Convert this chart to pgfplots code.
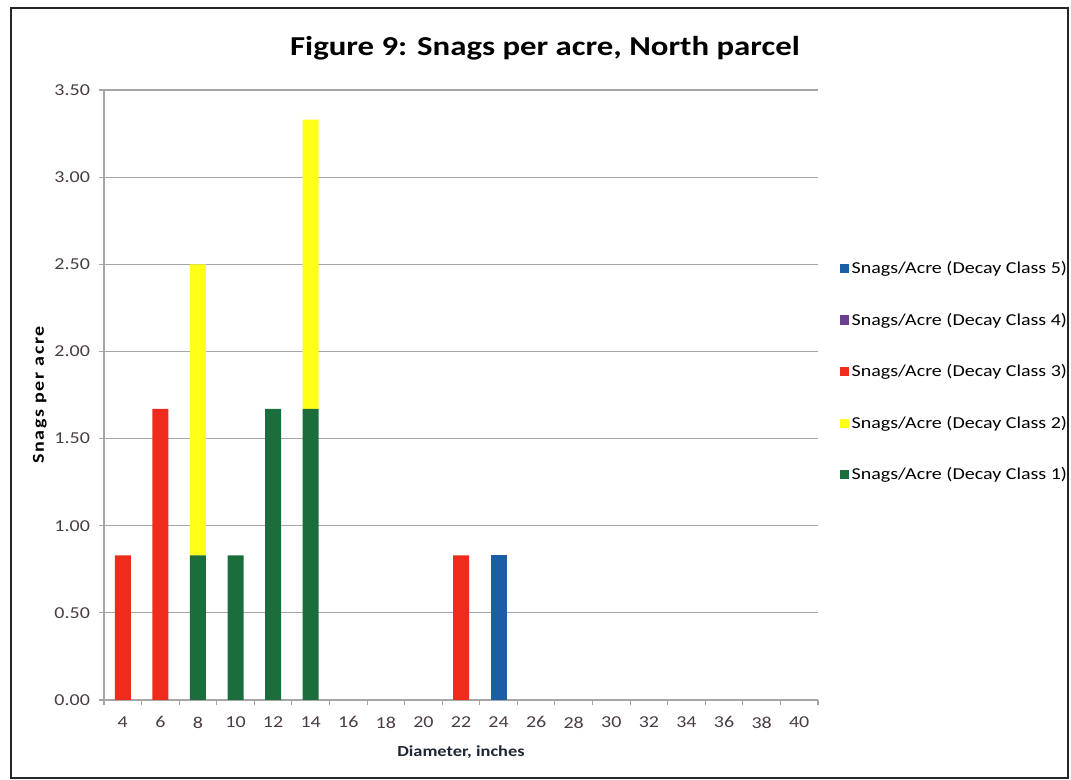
\documentclass[border=0pt]{standalone}
\usepackage{pgfplots}
\pgfplotsset{compat=1.18}
\usepackage{pgfplotstable}
\usepackage{fontspec}
\setmainfont{Carlito}[FakeStretch=1.2]
\definecolor{c1}{HTML}{1B6E3C}
\definecolor{c2}{HTML}{FFFF1A}
\definecolor{c3}{HTML}{EE2B1C}
\definecolor{c4}{HTML}{6A3D8E}
\definecolor{c5}{HTML}{1C5EA6}
\definecolor{tickc}{HTML}{4A3C46}
\definecolor{gridc}{HTML}{A6A6A6}
\definecolor{labc}{HTML}{1E2535}
\pgfplotstableread{
x  c1   c2   c3   c4 c5
0  0    0    0.83 0  0
1  0    0    1.67 0  0
2  0.83 1.67 0    0  0
3  0.83 0    0    0  0
4  1.67 0    0    0  0
5  1.67 1.66 0    0  0
6  0    0    0    0  0
7  0    0    0    0  0
8  0    0    0    0  0
9  0    0    0.83 0  0
10 0    0    0    0  0.83
11 0    0    0    0  0
12 0    0    0    0  0
13 0    0    0    0  0
14 0    0    0    0  0
15 0    0    0    0  0
16 0    0    0    0  0
17 0    0    0    0  0
18 0    0    0    0  0
}\datatable
\begin{document}
\begin{tikzpicture}
\useasboundingbox (0,0) rectangle (803.25pt,585pt);
\draw[line width=1.5pt, black!85] (8.25pt,1.5pt) rectangle (801pt,579pt);
\node[font=\bfseries\fontsize{20.5}{24}\selectfont] at (408.75pt,549pt) {Figure 9: Snags per acre, North parcel};
\begin{axis}[
  at={(78pt,60pt)}, anchor=south west,
  scale only axis, width=535.5pt, height=457.5pt,
  ybar stacked, bar width=12pt,
  xmin=-0.5, xmax=18.5, ymin=0, ymax=3.5,
  axis x line*=bottom, axis y line*=left,
  axis line style={-,gridc, line width=0.8pt},
  ymajorgrids, grid style={gridc, line width=0.8pt},
  ytick={0,0.5,1,1.5,2,2.5,3,3.5},
  yticklabel style={xshift=-3pt, /pgf/number format/.cd,fixed,fixed zerofill,precision=2},
  tick align=outside, major tick length=4pt,
  tick style={gridc, line width=0.8pt},
  xtick={-0.5,0.5,...,18.5},
  xticklabel={\phantom{0}},
  extra x ticks={0,1,...,18},
  extra x tick labels={4,6,8,10,12,14,16,18,20,22,24,26,28,30,32,34,36,38,40},
  extra x tick style={major tick length=0pt, tick style={draw=none}, xticklabel style={yshift=-9pt}},
  /pgf/number format/assume math mode=true,
  tick label style={font=\fontsize{12.5}{15}\selectfont, text=tickc},
  xlabel={Diameter, inches},
  ylabel={Snags per acre},
  xlabel style={at={(axis description cs:0.5,-0.085)}, anchor=center, font=\bfseries\fontsize{11.5}{14}\selectfont, text=labc},
  ylabel style={at={(axis description cs:-0.09,0.5)}, anchor=center, font=\bfseries\fontsize{12.5}{14}\selectfont\addfontfeature{LetterSpace=10}},
  legend style={at={(1.03,0.728)}, anchor=north west, draw=none, fill=none,
    font=\fontsize{12.5}{15}\selectfont, row sep=24pt, inner xsep=0pt},
  legend cell align=left,
  reverse legend,
  legend image code/.code={\fill[#1,draw=none] (0pt,-3.5pt) rectangle (7pt,3.5pt);},
]
\addplot[fill=c1, draw=none] table[x=x,y=c1] {\datatable};
\addplot[fill=c2, draw=none] table[x=x,y=c2] {\datatable};
\addplot[fill=c3, draw=none] table[x=x,y=c3] {\datatable};
\addplot[fill=c4, draw=none] table[x=x,y=c4] {\datatable};
\addplot[fill=c5, draw=none] table[x=x,y=c5] {\datatable};
\legend{Snags/Acre (Decay Class 1),Snags/Acre (Decay Class 2),Snags/Acre (Decay Class 3),Snags/Acre (Decay Class 4),Snags/Acre (Decay Class 5)}
\end{axis}
\end{tikzpicture}
\end{document}
